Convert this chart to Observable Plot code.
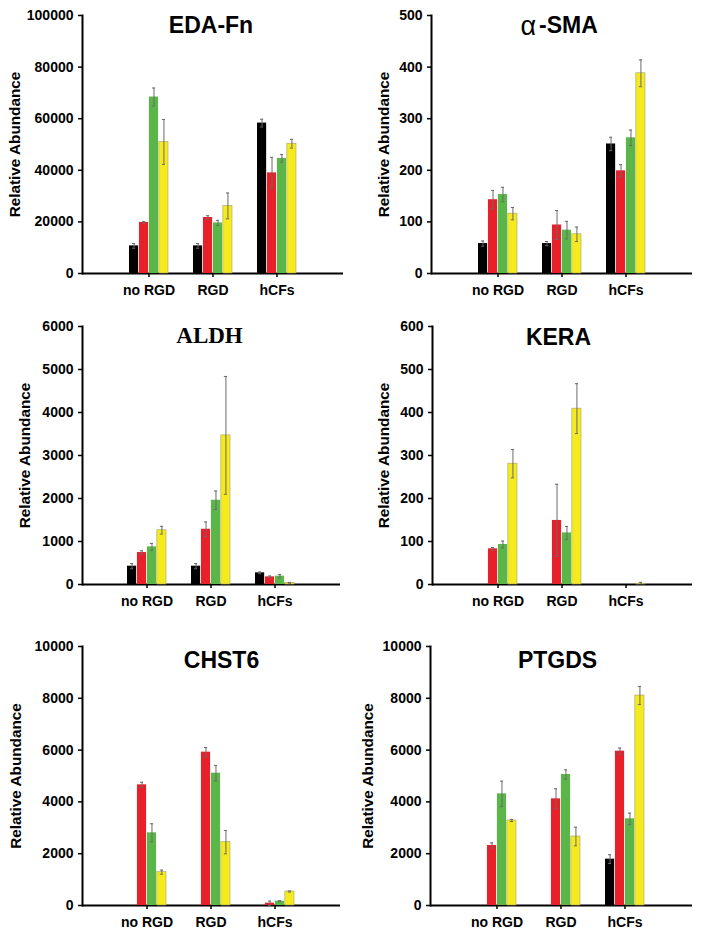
<!DOCTYPE html>
<html>
<head>
<meta charset="utf-8">
<script src="https://cdn.jsdelivr.net/npm/d3@7"></script>
<script src="https://cdn.jsdelivr.net/npm/@observablehq/plot@0.6"></script>
<style>
  html, body { margin: 0; padding: 0; background: #fff; }
  #wrap { position: relative; width: 704px; height: 942px; background: #fff; overflow: hidden; }
  #wrap svg { position: absolute; }
</style>
</head>
<body>
<div id="wrap"></div>
<script>
// ---- categories & series ----
const groups = ["no RGD", "RGD", "hCFs"];
const seriesKeys = ["S1", "S2", "S3", "S4"];
const seriesColors = ["#000000", "#e8202a", "#5ab648", "#f5ea1e"];
const yLabel = "Relative Abundance";

// ---- EDA-Fn ----  (rows: groups, columns: series)
const edaMeans = [[10700, 19800, 68400, 51000], [10700, 21700, 19600, 26200], [58300, 39000, 44600, 50300]];
const edaErrs  = [[900, 300, 3500, 8700], [900, 700, 1000, 5000], [1500, 6000, 1500, 1700]];
const edaTicks = [0, 20000, 40000, 60000, 80000, 100000];

// ---- α-SMA ----
const smaMeans = [[58, 143, 153, 116], [58, 94, 84, 76], [251, 199, 263, 388]];
const smaErrs  = [[5, 18, 14, 12], [4, 28, 17, 14], [13, 12, 15, 26]];
const smaTicks = [0, 100, 200, 300, 400, 500];

// ---- ALDH ----
const aldhMeans = [[426, 743, 875, 1262], [426, 1285, 1959, 3468], [271, 178, 194, 39]];
const aldhErrs  = [[60, 40, 80, 90], [60, 170, 215, 1370], [20, 20, 40, 10]];
const aldhTicks = [0, 1000, 2000, 3000, 4000, 5000, 6000];

// ---- KERA ----
const keraMeans = [[0, 83, 93, 281], [0, 149, 120, 409], [0, 0, 0, 2]];
const keraErrs  = [[0, 3, 8, 33], [0, 84, 15, 58], [0, 0, 0, 3]];
const keraTicks = [0, 100, 200, 300, 400, 500, 600];

// ---- CHST6 ----
const chstMeans = [[0, 4659, 2806, 1287], [0, 5920, 5109, 2445], [0, 90, 167, 540]];
const chstErrs  = [[0, 100, 350, 80], [0, 180, 300, 450], [0, 80, 20, 20]];
const chstTicks = [0, 2000, 4000, 6000, 8000, 10000];

// ---- PTGDS ----
const ptgMeans = [[0, 2317, 4311, 3282], [0, 4118, 5058, 2664], [1789, 5959, 3346, 8108]];
const ptgErrs  = [[0, 100, 490, 40], [0, 390, 180, 360], [170, 120, 220, 350]];
const ptgTicks = [0, 2000, 4000, 6000, 8000, 10000];

const FONT = "'Liberation Sans', Arial, Helvetica, sans-serif";
const BW = 9.95; // bar width inside a group band

function panel(cfg) {
  const rows = [];
  groups.forEach((g, gi) => seriesKeys.forEach((s, si) => rows.push({
    group: g, si, value: cfg.means[gi][si], err: cfg.errs[gi][si]
  })));
  const marks = [];
  marks.push(Plot.frame({anchor: "left", strokeWidth: 2, stroke: "#000"}));
  marks.push(Plot.ruleY([0], {strokeWidth: 2, stroke: "#000"}));
  seriesKeys.forEach((s, si) => {
    const d = rows.filter(r => r.si === si && r.value > 0);
    marks.push(Plot.barY(d, {
      x: "group", y: "value", fill: seriesColors[si],
      stroke: si === 3 ? "#a3a070" : "none", strokeWidth: 0.6,
      insetLeft: si * BW, insetRight: (3 - si) * BW
    }));
  });
  seriesKeys.forEach((s, si) => {
    const d = rows.filter(r => r.si === si && r.err > 0);
    marks.push(Plot.ruleX(d, {
      x: "group", y1: r => Math.max(0, r.value - r.err), y2: r => r.value + r.err,
      dx: (si - 1.5) * BW, stroke: "#6a6a6a", strokeWidth: 1
    }));
    marks.push(Plot.tickY(d, {
      x: "group", y: r => r.value + r.err,
      insetLeft: si * BW + 3, insetRight: (3 - si) * BW + 3, stroke: "#6a6a6a", strokeWidth: 1
    }));
    marks.push(Plot.tickY(d.filter(r => r.value - r.err > 0), {
      x: "group", y: r => r.value - r.err,
      insetLeft: si * BW + 3, insetRight: (3 - si) * BW + 3, stroke: "#6a6a6a", strokeWidth: 1
    }));
  });
  marks.push(Plot.axisY(cfg.ticks, {
    tickSize: 4, tickPadding: 5, tickFormat: d => String(d), label: null,
    fontSize: 14, fontWeight: "bold", stroke: "#000", strokeWidth: 1.5
  }));
  marks.push(Plot.axisX({
    tickSize: 4, tickPadding: 8, label: null,
    fontSize: 14, fontWeight: "bold", stroke: "#000", strokeWidth: 1.5
  }));
  marks.push(Plot.text([yLabel], {
    frameAnchor: "left", text: d => d, rotate: -90, dx: -cfg.labelOffset,
    textAnchor: "middle", lineAnchor: "middle",
    fontSize: 15.3, fontWeight: "bold", fill: "#000"
  }));
  if (cfg.alpha) {
    marks.push(Plot.text(["α"], {
      frameAnchor: "top", text: d => d, dx: cfg.titleDx - 3, dy: cfg.titleDy, textAnchor: "end",
      fontSize: 27, fontWeight: "normal", lineAnchor: "middle", fill: "#000"
    }));
    marks.push(Plot.text([cfg.title], {
      frameAnchor: "top", text: d => d, dx: cfg.titleDx, dy: cfg.titleDy, textAnchor: "start",
      fontSize: 23, fontWeight: "bold", lineAnchor: "middle", fill: "#000"
    }));
  } else {
    marks.push(Plot.text([cfg.title], {
      frameAnchor: "top", text: d => d, dx: cfg.titleDx, dy: cfg.titleDy,
      fontSize: 23, fontWeight: "bold", lineAnchor: "middle", fill: "#000",
      fontFamily: cfg.serif ? "'Liberation Serif', 'Times New Roman', serif" : FONT
    }));
  }
  const svg = Plot.plot({
    width: 352, height: cfg.height,
    marginLeft: cfg.ml, marginRight: cfg.mr, marginTop: cfg.mt, marginBottom: cfg.mb,
    style: {fontFamily: FONT, fontSize: "14px", fontWeight: "bold", color: "#000", background: "transparent", overflow: "visible"},
    x: {domain: groups, paddingInner: 0.385, paddingOuter: 0.708},
    y: {domain: [0, cfg.ticks[cfg.ticks.length - 1]]},
    marks
  });
  svg.style.left = cfg.left + "px";
  svg.style.top = cfg.top + "px";
  document.getElementById("wrap").appendChild(svg);
}

panel({title: "EDA-Fn", means: edaMeans, errs: edaErrs, ticks: edaTicks, left: 0, top: 0, height: 310,
  ml: 82, mr: 9, mt: 15, mb: 37, labelOffset: 67, titleDx: -2, titleDy: 10.6});
panel({title: "-SMA", alpha: true, means: smaMeans, errs: smaErrs, ticks: smaTicks, left: 352, top: 0, height: 310,
  ml: 79, mr: 12, mt: 15, mb: 37, labelOffset: 47, titleDx: -23, titleDy: 10.6});
panel({title: "ALDH", serif: true, means: aldhMeans, errs: aldhErrs, ticks: aldhTicks, left: 0, top: 310, height: 310,
  ml: 82, mr: 12, mt: 16, mb: 36, labelOffset: 57, titleDx: -2, titleDy: 9.6});
panel({title: "KERA", means: keraMeans, errs: keraErrs, ticks: keraTicks, left: 352, top: 310, height: 310,
  ml: 80, mr: 12, mt: 16, mb: 36, labelOffset: 48, titleDx: -4, titleDy: 11.6});
panel({title: "CHST6", means: chstMeans, errs: chstErrs, ticks: chstTicks, left: 0, top: 620, height: 322,
  ml: 82, mr: 12, mt: 26, mb: 37, labelOffset: 66, titleDx: 10, titleDy: 14.6});
panel({title: "PTGDS", means: ptgMeans, errs: ptgErrs, ticks: ptgTicks, left: 352, top: 620, height: 322,
  ml: 78, mr: 12, mt: 26, mb: 37, labelOffset: 62, titleDx: -4, titleDy: 14.6});
</script>
</body>
</html>
